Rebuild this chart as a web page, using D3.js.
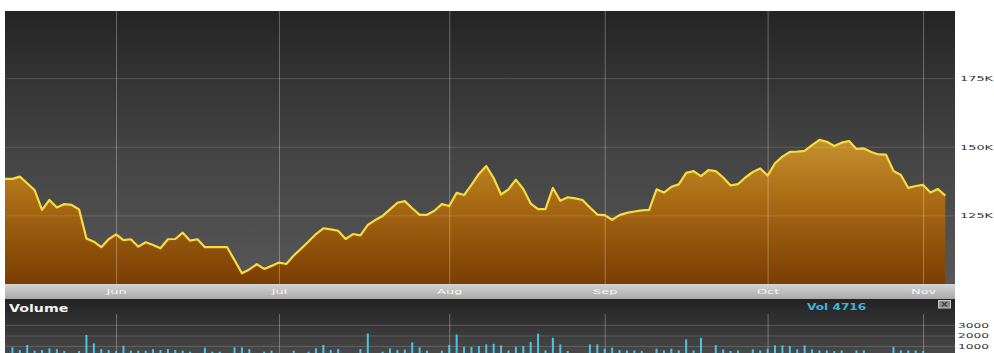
<!DOCTYPE html>
<html>
<head>
<meta charset="utf-8">
<script src="https://cdn.jsdelivr.net/npm/d3@7"></script>
<style>
  html, body { margin: 0; padding: 0; background: #fff; overflow: hidden; }
  svg { display: block; font-family: "DejaVu Sans", Verdana, sans-serif; }
</style>
</head>
<body>
<svg id="chart" width="994" height="353"></svg>
<script>
// Daily closing level, in thousands
const price = [
  138.3, 138.3, 139.1, 136.7, 134.2, 127.0, 130.6, 127.9, 129.1, 128.8,
  127.2, 116.6, 115.4, 113.4, 116.3, 118.1, 116.0, 116.3, 113.6, 115.2,
  114.2, 113.0, 116.3, 116.4, 118.7, 115.8, 116.3, 113.4, 113.4, 113.4,
  113.4, 108.7, 103.9, 105.3, 107.2, 105.5, 106.6, 107.8, 107.3, 110.4,
  112.9, 115.5, 118.2, 120.3, 119.9, 119.4, 116.4, 118.2, 117.7, 121.5,
  123.3, 124.8, 127.2, 129.6, 130.2, 127.6, 125.2, 125.2, 126.7, 129.1,
  128.4, 133.2, 132.4, 136.1, 140.1, 143.0, 138.6, 132.6, 134.5, 138.0,
  134.6, 129.3, 127.3, 127.3, 135.0, 130.3, 131.6, 131.2, 130.6, 127.9,
  125.3, 125.1, 123.4, 125.1, 125.9, 126.4, 126.8, 127.0, 134.5, 133.3,
  135.4, 136.3, 140.5, 141.1, 139.3, 141.5, 141.1, 138.8, 135.9, 136.4,
  138.8, 140.8, 142.1, 139.5, 144.0, 146.4, 148.1, 148.2, 148.5, 150.6,
  152.5, 151.8, 150.3, 151.5, 152.1, 149.2, 149.4, 148.1, 147.2, 147.1,
  141.2, 139.7, 135.0, 135.7, 136.1, 133.3, 134.6, 132.2
];

// Daily traded volume
const volume = [
  200, 870, 620, 1100, 550, 620, 780, 710, 520, 200,
  520, 2050, 1250, 710, 620, 520, 1030, 550, 550, 550,
  700, 620, 710, 620, 550, 460, 200, 840, 460, 460,
  200, 870, 870, 710, 200, 460, 550, 200, 200, 550,
  200, 460, 780, 1100, 620, 710, 200, 200, 710, 2200,
  200, 460, 780, 620, 660, 1340, 870, 550, 200, 550,
  1100, 2100, 930, 900, 1000, 1150, 1210, 1060, 580, 920,
  1000, 1380, 2170, 580, 1780, 1150, 520, 200, 200, 1150,
  1150, 740, 840, 610, 580, 580, 520, 200, 740, 580,
  740, 580, 1630, 580, 1780, 200, 1090, 680, 520, 580,
  200, 680, 580, 740, 1060, 1060, 1000, 680, 1060, 680,
  580, 580, 520, 580, 200, 580, 580, 200, 200, 200,
  920, 580, 580, 580, 520, 200, 200, 200
];

// First trading session of each month
const monthLabels = ["Jun", "Jul", "Aug", "Sep", "Oct", "Nov"];
const monthIndex  = [15, 37, 60, 81, 103, 124];

const priceTicks  = [125, 150, 175];
const volumeTicks = [1000, 2000, 3000];
const volumeLegend = "Vol 4716";

// ---- layout ----
const panelL = 5, panelR = 955;
const pTop = 11, pBot = 284;      // price panel
const bandBot = 299;              // month band
const vTop = 299, vBot = 353;     // volume panel
const vGridTop = 314;

const svg = d3.select("#chart");
const defs = svg.append("defs");

function vGrad(id, y1, y2, stops) {
  const g = defs.append("linearGradient").attr("id", id)
    .attr("gradientUnits", "userSpaceOnUse")
    .attr("x1", 0).attr("x2", 0).attr("y1", y1).attr("y2", y2);
  stops.forEach(([o, c]) => g.append("stop").attr("offset", o).attr("stop-color", c));
}
vGrad("bgPrice", pTop, pBot, [[0, "#242424"], [0.5, "#434343"], [1, "#575757"]]);
vGrad("fillPrice", 135, pBot, [[0, "#c69430"], [0.45, "#a86a14"], [1, "#793d02"]]);
vGrad("band", pBot, bandBot, [[0, "#d4d4d4"], [1, "#a9a9a9"]]);
vGrad("bgVol", vTop, vBot, [[0, "#222222"], [1, "#484848"]]);

defs.append("clipPath").attr("id", "clipPrice")
  .append("rect").attr("x", panelL).attr("y", pTop)
  .attr("width", panelR - panelL).attr("height", pBot - pTop);
defs.append("clipPath").attr("id", "clipVol")
  .append("rect").attr("x", panelL).attr("y", vTop)
  .attr("width", panelR - panelL).attr("height", vBot - vTop);

// ---- scales ----
const x  = d3.scaleLinear().domain([0, price.length - 1]).range([5, 945.3]);
const y  = d3.scaleLinear().domain([100, 200]).range([pBot, 9.5]);
const yv = d3.scaleLinear().domain([0, 3000]).range([356.5, 325]);

// ---- price panel ----
svg.append("rect").attr("x", panelL).attr("y", pTop)
  .attr("width", panelR - panelL).attr("height", pBot - pTop)
  .attr("fill", "url(#bgPrice)");

const pg = svg.append("g").attr("clip-path", "url(#clipPrice)");

pg.append("path").datum(price)
  .attr("fill", "url(#fillPrice)")
  .attr("d", d3.area().x((d, i) => x(i)).y0(pBot).y1(d => y(d)));

// horizontal grid
const hGrid = pg.append("g").attr("transform", `translate(${panelL},0)`)
  .call(d3.axisRight(y).tickValues(priceTicks).tickSize(panelR - panelL).tickFormat(""));
hGrid.select(".domain").remove();
hGrid.selectAll("line").attr("stroke", "#ffffff").attr("stroke-opacity", 0.15);

// vertical grid
const vGrid = pg.append("g").attr("transform", `translate(0,${pBot})`)
  .call(d3.axisBottom(x).tickValues(monthIndex).tickSize(-(pBot - pTop)).tickFormat(""));
vGrid.select(".domain").remove();
vGrid.selectAll("line").attr("stroke", "#ffffff").attr("stroke-opacity", 0.3);

pg.append("path").datum(price)
  .attr("fill", "none")
  .attr("stroke", "#f6dc3c")
  .attr("stroke-width", 2.2)
  .attr("stroke-linejoin", "round")
  .attr("d", d3.line().x((d, i) => x(i)).y(d => y(d)));

// price axis labels
const pAxis = svg.append("g").attr("transform", `translate(${panelR},0)`)
  .call(d3.axisRight(y).tickValues(priceTicks).tickSize(0).tickFormat(d => d + "K"));
pAxis.select(".domain").remove();
pAxis.selectAll("text")
  .attr("x", 0).attr("dy", "0.35em")
  .attr("transform", "translate(5,0) scale(1.84,1)")
  .attr("fill", "#333").attr("font-size", 7)
  .attr("font-family", "DejaVu Sans");

// ---- month band ----
svg.append("rect").attr("x", panelL).attr("y", pBot)
  .attr("width", panelR - panelL).attr("height", bandBot - pBot)
  .attr("fill", "url(#band)");

const mAxis = svg.append("g").attr("transform", `translate(0,${pBot})`)
  .call(d3.axisBottom(x).tickValues(monthIndex).tickSize(0)
    .tickFormat((d, i) => monthLabels[i]));
mAxis.select(".domain").remove();
mAxis.selectAll("text")
  .attr("y", 0).attr("dy", 0)
  .attr("transform", "translate(0,10.3) scale(1.85,1)")
  .attr("fill", "#f6f6f6").attr("font-size", 7)
  .attr("font-family", "DejaVu Sans");

// ---- volume panel ----
svg.append("rect").attr("x", panelL).attr("y", vTop)
  .attr("width", panelR - panelL).attr("height", vBot - vTop)
  .attr("fill", "url(#bgVol)");

const vg = svg.append("g").attr("clip-path", "url(#clipVol)");

const vhGrid = vg.append("g").attr("transform", `translate(${panelL},0)`)
  .call(d3.axisRight(yv).tickValues(volumeTicks).tickSize(panelR - panelL).tickFormat(""));
vhGrid.select(".domain").remove();
vhGrid.selectAll("line").attr("stroke", "#ffffff").attr("stroke-opacity", 0.15);

const vvGrid = vg.append("g").attr("transform", `translate(0,${vBot})`)
  .call(d3.axisBottom(x).tickValues(monthIndex).tickSize(-(vBot - vGridTop)).tickFormat(""));
vvGrid.select(".domain").remove();
vvGrid.selectAll("line").attr("stroke", "#ffffff").attr("stroke-opacity", 0.3);

vg.selectAll("rect.vbar").data(volume).join("rect")
  .attr("class", "vbar")
  .attr("x", (d, i) => x(i) - 1)
  .attr("width", 2)
  .attr("y", d => yv(d))
  .attr("height", d => yv(0) - yv(d))
  .attr("fill", "#4cc4e4");

// volume axis labels
const vAxis = svg.append("g").attr("transform", `translate(${panelR},0)`)
  .call(d3.axisRight(yv).tickValues(volumeTicks).tickSize(0).tickFormat(d3.format("d")));
vAxis.select(".domain").remove();
vAxis.selectAll("text")
  .attr("x", 0).attr("dy", "0.35em")
  .attr("transform", "translate(3,0) scale(1.75,1)")
  .attr("fill", "#333").attr("font-size", 7)
  .attr("font-family", "DejaVu Sans");

// panel titles
svg.append("text")
  .attr("transform", "translate(9,311.5) scale(1.42,1)")
  .attr("font-size", 10).attr("font-weight", "bold")
  .attr("fill", "#f4f4f4").text("Volume");

svg.append("text")
  .attr("transform", "translate(807,310) scale(1.43,1)")
  .attr("font-size", 8.5).attr("font-weight", "bold")
  .attr("fill", "#3fb6d8").text(volumeLegend);

// close button
const cb = svg.append("g").attr("transform", "translate(938.5,300.5)");
cb.append("rect").attr("width", 12).attr("height", 7.5)
  .attr("fill", "#8c8c8c").attr("stroke", "#c8c8c8").attr("stroke-width", 1);
cb.append("path").attr("d", "M3.5,1.5L8.5,6M8.5,1.5L3.5,6")
  .attr("stroke", "#3a3a3a").attr("stroke-width", 1.1).attr("fill", "none");
</script>
</body>
</html>
